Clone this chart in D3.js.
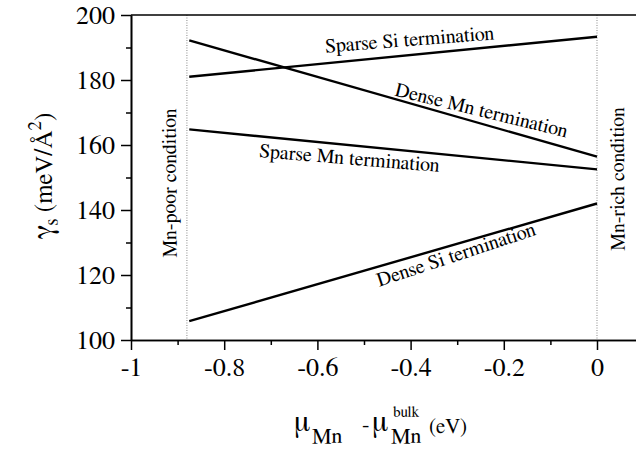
<!DOCTYPE html>
<html><head><meta charset="utf-8">
<script src="https://cdn.jsdelivr.net/npm/d3@7"></script>
<style>
body{margin:0;background:#fff}
svg{display:block}
svg text{font-family:"FreeSerif","Times New Roman",serif !important;fill:#000}
</style>
</head><body><svg width="636" height="452"></svg>
<script>
// ---- data ----
const seriesNames = ["Sparse Si termination", "Dense Mn termination", "Sparse Mn termination", "Dense Si termination"];
const xStart = [-0.875, -0.875, -0.875, -0.875];
const xEnd = [0, 0, 0, 0];
const yStart = [181.0, 192.2, 164.8, 105.8];
const yEnd = [193.3, 156.4, 152.5, 142.0];
const xTicks = [-1, -0.8, -0.6, -0.4, -0.2, 0];
const xTickLabels = ["-1", "-0.8", "-0.6", "-0.4", "-0.2", "0"];
const xMinorTicks = [-0.9, -0.7, -0.5, -0.3, -0.1];
const yTicks = [100, 120, 140, 160, 180, 200];
const yMinorTicks = [110, 130, 150, 170, 190];
const conditionX = [-0.88, 0];
const conditionLabels = ["Mn-poor condition", "Mn-rich condition"];

// ---- layout ----
const svg = d3.select("svg");
const x = d3.scaleLinear().domain([-1, 0.0837]).range([131, 636]);
const y = d3.scaleLinear().domain([100, 200]).range([340, 15]);

// label placement (data anchor + rotation)
const labelLayout = [
  {ax: -0.401, ay: 190.46, rot: -4.5},
  {ax: -0.251, ay: 168.77, rot: 13.7},
  {ax: -0.532, ay: 154.0, rot: 4.7},
  {ax: -0.298, ay: 124.4, rot: -18.3}
];
const condLayout = [{px: 176, py: 183}, {px: 624, py: 179}];

// condition dotted lines
svg.selectAll("line.cond").data(conditionX).join("line")
  .attr("class", "cond")
  .attr("x1", d => x(d)).attr("x2", d => x(d))
  .attr("y1", y(200)).attr("y2", y(100))
  .attr("stroke", "#888").attr("stroke-width", 1).attr("stroke-dasharray", "1,1.5");

// condition labels
svg.selectAll("text.cond").data(conditionLabels).join("text")
  .attr("class", "cond")
  .attr("transform", (d, i) => `translate(${condLayout[i].px},${condLayout[i].py}) rotate(-90)`)
  .attr("text-anchor", "middle")
  .attr("font-size", 20)
  .text(d => d);

// series lines
const seriesData = seriesNames.map((n, i) => ({name: n, pts: [[xStart[i], yStart[i]], [xEnd[i], yEnd[i]]]}));
const line = d3.line().x(d => x(d[0])).y(d => y(d[1]));
svg.selectAll("path.series").data(seriesData).join("path")
  .attr("class", "series")
  .attr("d", d => line(d.pts))
  .attr("fill", "none").attr("stroke", "#000").attr("stroke-width", 2.4);

// series labels
svg.selectAll("text.series").data(seriesNames).join("text")
  .attr("class", "series")
  .attr("transform", (d, i) => `translate(${x(labelLayout[i].ax)},${y(labelLayout[i].ay)}) rotate(${labelLayout[i].rot})`)
  .attr("text-anchor", "middle")
  .attr("font-size", 20)
  .text(d => d);

// top frame
svg.append("line")
  .attr("x1", x.range()[0]).attr("x2", x.range()[1])
  .attr("y1", y(200)).attr("y2", y(200))
  .attr("stroke", "#000").attr("stroke-width", 1.6);

// axes
const xAxis = svg.append("g").attr("transform", `translate(0,${y(100)})`)
  .call(d3.axisBottom(x).tickValues(xTicks).tickFormat((d, i) => xTickLabels[i]).tickSize(10).tickSizeOuter(0).tickPadding(8));
const xMinor = svg.append("g").attr("transform", `translate(0,${y(100)})`)
  .call(d3.axisBottom(x).tickValues(xMinorTicks).tickFormat("").tickSize(5).tickSizeOuter(0));
const yAxis = svg.append("g").attr("transform", `translate(${x(-1)},0)`)
  .call(d3.axisLeft(y).tickValues(yTicks).tickFormat(d3.format("d")).tickSize(10).tickSizeOuter(0).tickPadding(6));
const yMinor = svg.append("g").attr("transform", `translate(${x(-1)},0)`)
  .call(d3.axisLeft(y).tickValues(yMinorTicks).tickFormat("").tickSize(5).tickSizeOuter(0));
[xAxis, xMinor, yAxis, yMinor].forEach(g => {
  g.attr("font-family", null);
  g.select(".domain").attr("stroke", "#000").attr("stroke-width", 1.6);
  g.selectAll(".tick line").attr("stroke", "#000").attr("stroke-width", 1.5);
  g.selectAll(".tick text").attr("font-size", 26).attr("fill", "#000");
});
yAxis.selectAll(".tick text").attr("dy", "0.34em");

// y axis title
const yt = svg.append("text")
  .attr("transform", "translate(52,176) rotate(-90)")
  .attr("text-anchor", "middle");
yt.append("tspan").attr("font-size", 29).text("γ");
yt.append("tspan").attr("font-size", 19).attr("dy", 6).text("s");
yt.append("tspan").attr("font-size", 25).attr("dy", -6).text("\u00a0(meV/Å");
yt.append("tspan").attr("font-size", 19).attr("dy", -11).text("2");
yt.append("tspan").attr("font-size", 25).attr("dy", 11).text(")");

// x axis title
const xt = svg.append("g");
xt.append("text").attr("x", 294).attr("y", 431).attr("font-size", 30).text("μ");
xt.append("text").attr("x", 312).attr("y", 443).attr("font-size", 22).text("Mn");
xt.append("text").attr("x", 362).attr("y", 431).attr("font-size", 22).text("-");
xt.append("text").attr("x", 372).attr("y", 431).attr("font-size", 30).text("μ");
xt.append("text").attr("x", 393).attr("y", 417).attr("font-size", 15).text("bulk");
xt.append("text").attr("x", 391).attr("y", 443).attr("font-size", 22).text("Mn");
xt.append("text").attr("x", 429).attr("y", 433).attr("font-size", 21).text("(eV)");
</script>
</body></html>
